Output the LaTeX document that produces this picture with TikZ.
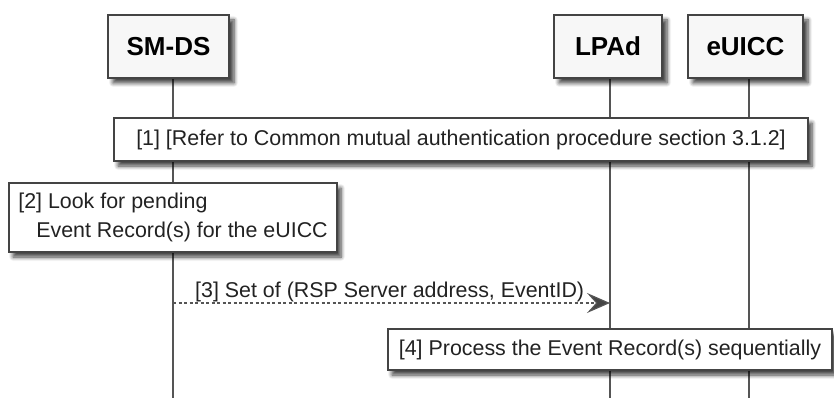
\documentclass[tikz,border=0pt]{standalone}
\usepackage{fontspec}
\setmainfont{Liberation Sans}
\usetikzlibrary{shadows.blur,arrows.meta}
\definecolor{lineg}{HTML}{555555}
\definecolor{boxg}{HTML}{444444}
\definecolor{txt}{HTML}{222222}
\begin{document}
\begin{tikzpicture}[x=1pt,y=-1pt,
  actor/.style={draw=boxg, line width=1.8pt, fill=black!3, minimum height=63pt, inner sep=0pt,
    font=\fontsize{26}{30}\selectfont\bfseries, text=black,
    blur shadow={shadow xshift=5pt, shadow yshift=-5pt, shadow blur radius=4pt, shadow blur steps=6, shadow opacity=75}},
  notebox/.style={draw=boxg, line width=1.4pt, fill=white, inner sep=0pt,
    font=\fontsize{21.4}{28.5}\selectfont, text=txt,
    blur shadow={shadow xshift=4pt, shadow yshift=-5pt, shadow blur radius=4pt, shadow blur steps=6, shadow opacity=75}},
  life/.style={draw=lineg, line width=1.5pt},
  msg/.style={draw=lineg, line width=1.2pt, dash pattern=on 3pt off 2.5pt,
    -{Stealth[length=23pt,width=20pt,inset=9pt,fill=boxg]}},
  msgtext/.style={font=\fontsize{21.4}{26}\selectfont, text=txt, inner sep=0pt, anchor=base west}
]
\useasboundingbox (0,0) rectangle (834,398);

% lifelines
\coordinate (smT) at (173,78);  \coordinate (smB) at (173,398);
\coordinate (lpT) at (610,78);  \coordinate (lpB) at (610,398);
\coordinate (euT) at (749,78);  \coordinate (euB) at (749,398);
\draw[life] (smT) -- (smB);
\draw[life] (lpT) -- (lpB);
\draw[life] (euT) -- (euB);

% participants
\node[actor, minimum width=121pt] (smds) at (168.5,46.5) {SM-DS};
\node[actor, minimum width=108pt] (lpad) at (608,46.5) {LPAd};
\node[actor, minimum width=115pt] (euicc) at (745.5,46.5) {eUICC};

% notes
\node[notebox, minimum width=694pt, minimum height=43pt] (n1) at (461,139.5)
  {[1] [Refer to Common mutual authentication procedure section 3.1.2]};
\node[notebox, minimum width=328pt, minimum height=69pt, align=left] (n2) at (173,217.5)
  {[2] Look for pending\\\hspace*{18pt}Event Record(s) for the eUICC};
\node[notebox, minimum width=444pt, minimum height=41pt] (n4) at (610,349.5)
  {[4] Process the Event Record(s) sequentially};

% message
\coordinate (m3a) at (173,303);
\coordinate (m3b) at (610,303);
\draw[msg] (m3a) -- (m3b);
\node[msgtext] (t3) at (195,297) {[3] Set of (RSP Server address, EventID)};
\end{tikzpicture}
\end{document}
